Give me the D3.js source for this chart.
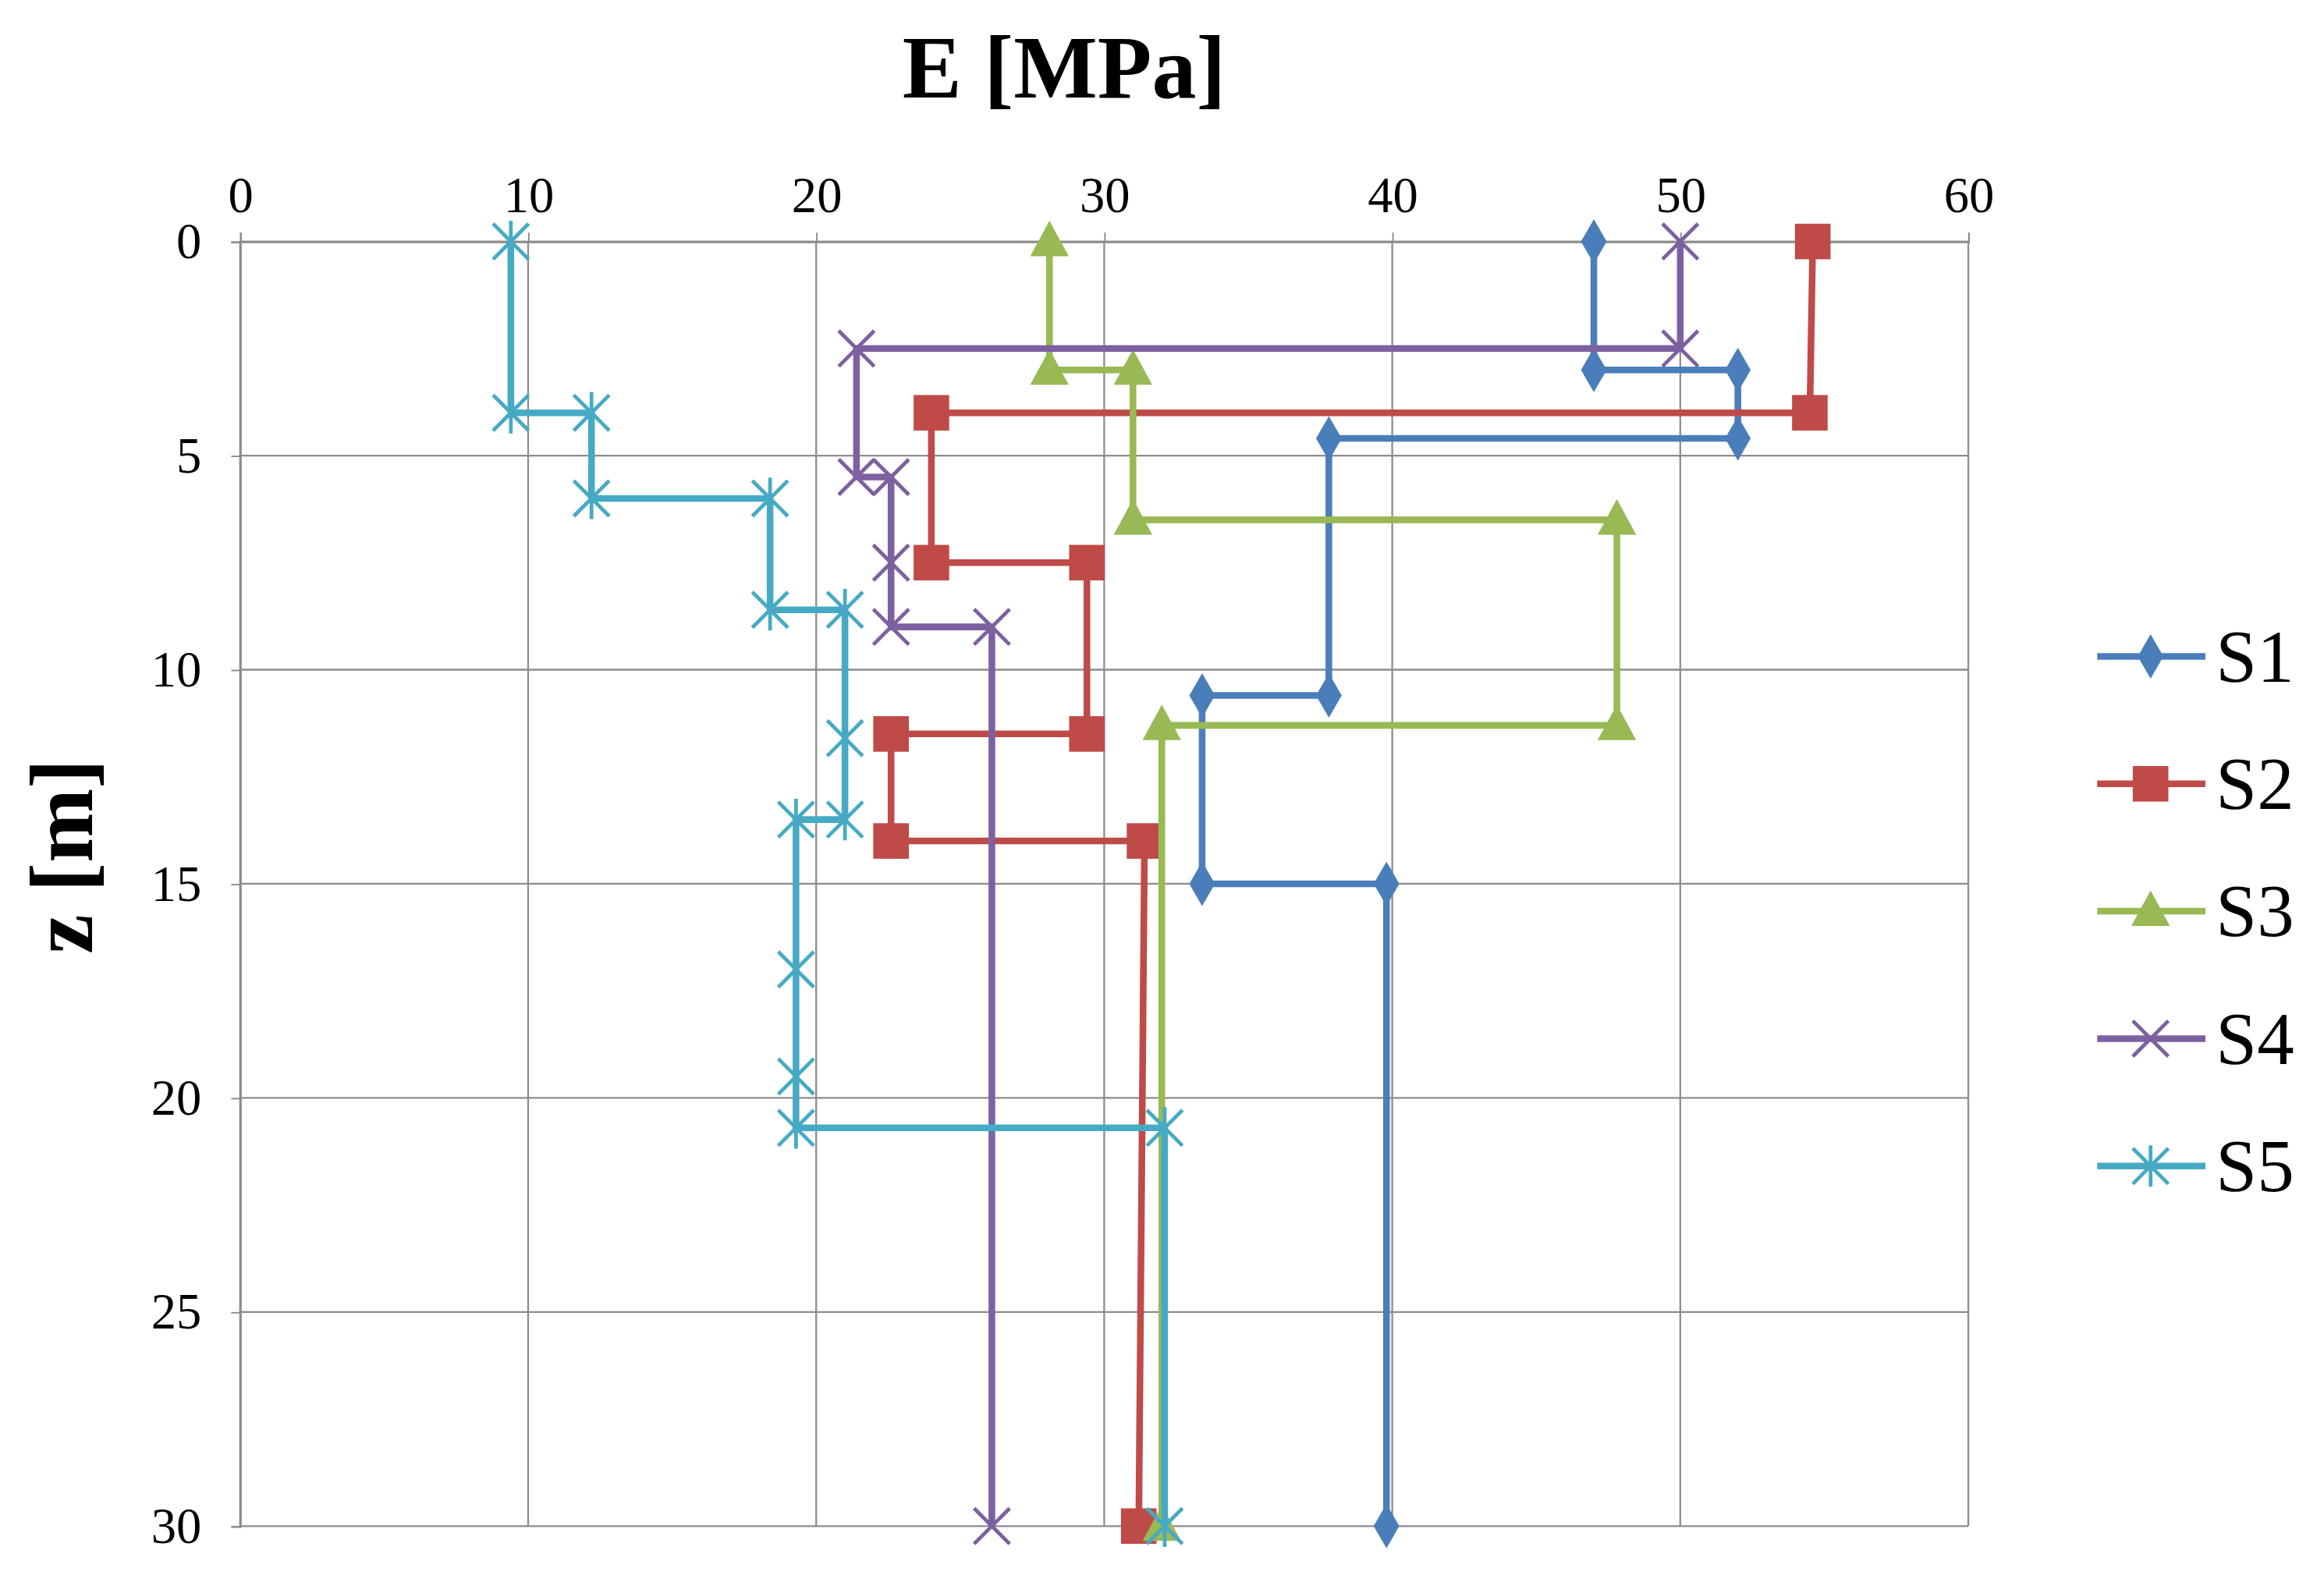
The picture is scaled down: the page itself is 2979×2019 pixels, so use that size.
<!DOCTYPE html>
<html><head><meta charset="utf-8">
<script src="https://cdn.jsdelivr.net/npm/d3@7"></script>
<style>body{margin:0;background:#fff}</style>
</head><body>
<script>
// series data: [E (MPa), z (m)]
var s1 = [[47,0],[47,3],[52,3],[52,4.6],[37.8,4.6],[37.8,10.6],[33.4,10.6],[33.4,15],[39.8,15],[39.8,30]];
var s2 = [[54.6,0],[54.5,4],[24,4],[24,7.5],[29.4,7.5],[29.4,11.5],[22.6,11.5],[22.6,14],[31.4,14],[31.2,30]];
var s3 = [[28.1,0],[28.1,3],[31,3],[31,6.5],[47.8,6.5],[47.8,11.3],[32,11.3],[32,30]];
var s4 = [[50,0],[50,2.5],[21.4,2.5],[21.4,5.5],[22.6,5.5],[22.6,7.5],[22.6,9],[26.1,9],[26.1,30]];
var s5 = [[9.4,0],[9.4,4],[12.2,4],[12.2,6],[18.4,6],[18.4,8.6],[21,8.6],[21,11.6],[21,13.5],[19.3,13.5],[19.3,17],[19.3,19.5],[19.3,20.7],[32.1,20.7],[32.1,30]];
var names = ["S1","S2","S3","S4","S5"];
var colors = ["#4a7ebb","#be4b48","#98b954","#7d60a0","#46aac5"];
var shapes = ["diamond","square","triangle","x","star"];
var xTicks = [0,10,20,30,40,50,60];
var yTicks = [0,5,10,15,20,25,30];
var series = [s1,s2,s3,s4,s5];

var svg = d3.select("body").append("svg")
    .attr("width", 2979).attr("height", 2019)
    .attr("viewBox", "0 0 1568 1063")
    .attr("preserveAspectRatio", "none");

var x = d3.scaleLinear().domain([0,60]).range([162,1328]);
var y = d3.scaleLinear().domain([0,30]).range([163,1030]);
var font = "Liberation Serif, Times New Roman, serif";

// grid
svg.selectAll(".vg").data(xTicks).enter().append("line")
  .attr("x1", d => x(d)).attr("x2", d => x(d)).attr("y1", y(0)).attr("y2", y(30))
  .attr("stroke", "#8c8c8c").attr("stroke-width", 1.2);
svg.selectAll(".hg").data(yTicks).enter().append("line")
  .attr("x1", x(0)).attr("x2", x(60)).attr("y1", d => y(d)).attr("y2", d => y(d))
  .attr("stroke", "#8c8c8c").attr("stroke-width", 1.2);

// axes
var xa = svg.append("g").attr("transform", "translate(0," + y(0) + ")")
  .call(d3.axisTop(x).tickValues(xTicks).tickSize(6).tickPadding(14));
var ya = svg.append("g").attr("transform", "translate(" + x(0) + ",0)")
  .call(d3.axisLeft(y).tickValues(yTicks).tickSize(6).tickPadding(20));
[xa, ya].forEach(function(a){
  a.select(".domain").attr("stroke", "#8c8c8c").attr("stroke-width", 1.2);
  a.selectAll(".tick line").attr("stroke", "#8c8c8c");
  a.selectAll("text").attr("font-family", font).attr("font-size", 34).attr("fill", "#000");
});

svg.append("text").attr("x", 718).attr("y", 66).attr("text-anchor", "middle")
  .attr("font-family", font).attr("font-weight", "bold").attr("font-size", 60).text("E [MPa]");
svg.append("text").attr("transform", "translate(62,578) rotate(-90)").attr("text-anchor", "middle")
  .attr("font-family", font).attr("font-weight", "bold").attr("font-size", 60).text("z [m]");

function marker(g, shape, color, cx, cy) {
  if (shape == "diamond") g.append("path").attr("d", d3.symbol(d3.symbolDiamond, 260)()).attr("transform", "translate("+cx+","+cy+")").attr("fill", color);
  else if (shape == "square") g.append("rect").attr("x", cx-12).attr("y", cy-12).attr("width", 24).attr("height", 24).attr("fill", color);
  else if (shape == "triangle") g.append("path").attr("d", "M0,-14L13,10L-13,10Z").attr("transform", "translate("+cx+","+cy+")").attr("fill", color);
  else {
    var r = 12, p = "M-"+r+",-"+r+"L"+r+","+r+"M-"+r+","+r+"L"+r+",-"+r;
    if (shape == "star") p += "M0,-"+(r+2)+"L0,"+(r+2);
    g.append("path").attr("d", p).attr("transform", "translate("+cx+","+cy+")")
      .attr("stroke", color).attr("stroke-width", 2.5).attr("fill", "none");
  }
}

var line = d3.line().x(d => x(d[0])).y(d => y(d[1]));
series.forEach(function(s, i) {
  var g = svg.append("g");
  g.append("path").datum(s).attr("d", line).attr("fill", "none")
    .attr("stroke", colors[i]).attr("stroke-width", 4.5).attr("stroke-linejoin", "round");
  s.forEach(function(d){ marker(g, shapes[i], colors[i], x(d[0]), y(d[1])); });
});

// legend
var ly = d3.scalePoint().domain(names).range([443,787]);
names.forEach(function(n, i) {
  var g = svg.append("g");
  g.append("line").attr("x1", 1415).attr("x2", 1488).attr("y1", ly(n)).attr("y2", ly(n))
    .attr("stroke", colors[i]).attr("stroke-width", 4.5);
  marker(g, shapes[i], colors[i], 1451, ly(n));
  g.append("text").attr("x", 1495).attr("y", ly(n) + 17).attr("font-family", font)
    .attr("font-size", 50).text(n);
});
</script>
</body></html>
